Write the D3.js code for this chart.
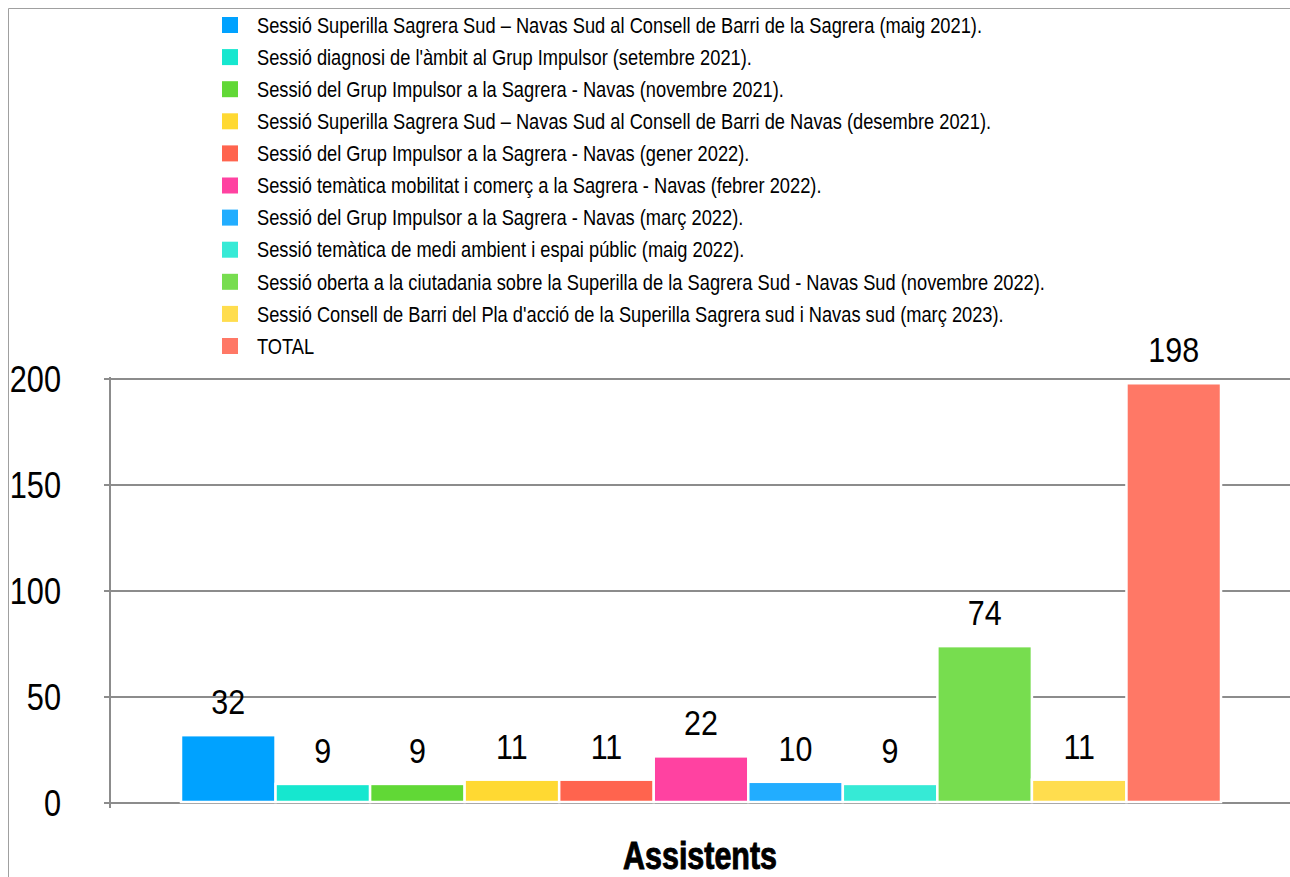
<!DOCTYPE html>
<html>
<head>
<meta charset="utf-8">
<script src="https://cdn.jsdelivr.net/npm/d3@7"></script>
<style>
    body { margin: 0; background: #fff; }
    svg { display: block; }
    .chartFont { font-family: "Liberation Sans", Arimo, Arial, sans-serif; }
</style>
</head>
<body>
<svg id="chart" width="1290" height="877"></svg>
<script>
var sessions = [
    "Sessió Superilla Sagrera Sud – Navas Sud al Consell de Barri de la Sagrera (maig 2021).",
    "Sessió diagnosi de l'àmbit al Grup Impulsor (setembre 2021).",
    "Sessió del Grup Impulsor a la Sagrera - Navas (novembre 2021).",
    "Sessió Superilla Sagrera Sud – Navas Sud al Consell de Barri de Navas (desembre 2021).",
    "Sessió del Grup Impulsor a la Sagrera - Navas (gener 2022).",
    "Sessió temàtica mobilitat i comerç a la Sagrera - Navas (febrer 2022).",
    "Sessió del Grup Impulsor a la Sagrera - Navas (març 2022).",
    "Sessió temàtica de medi ambient i espai públic (maig 2022).",
    "Sessió oberta a la ciutadania sobre la Superilla de la Sagrera Sud - Navas Sud (novembre 2022).",
    "Sessió Consell de Barri del Pla d'acció de la Superilla Sagrera sud i Navas sud (març 2023).",
    "TOTAL"
];

var assistents = [32, 9, 9, 11, 11, 22, 10, 9, 74, 11, 198];

var sessionColors = [
    "#00A2FF", "#16E7CF", "#61D836", "#FFD932", "#FF644E", "#FF42A1",
    "#22ADFF", "#36EAD6", "#77DD4F", "#FFDD4E", "#FF7866"
];

var yTicks = [0, 50, 100, 150, 200];

var axisTitle = "Assistents";

// the original uses a condensed face; squeeze a regular one horizontally
function place(x, y, sx)
{
    return "translate(" + x + "," + y + ") scale(" + sx + ",1)";
}

var svg = d3.select("#chart");

// frame (top and left edge only)
svg.append("path")
    .attr("d", "M8.5,877 V8.5 H1290")
    .attr("fill", "none")
    .attr("stroke", "#a0a0a0")
    .attr("stroke-width", 1);

var plotLeft = 110, plotRight = 1290;

var y = d3.scaleLinear()
    .domain([0, 200])
    .range([803, 379]);

var x = d3.scaleBand()
    .domain(d3.range(sessions.length))
    .range([181, 1221])
    .paddingInner(0);

// gridlines
svg.append("g")
    .selectAll("line")
    .data(yTicks)
    .enter().append("line")
    .attr("x1", plotLeft - 6)
    .attr("x2", plotRight)
    .attr("y1", function(d) { return y(d); })
    .attr("y2", function(d) { return y(d); })
    .attr("stroke", "#8c8c8c")
    .attr("stroke-width", 2);

// y axis line
svg.append("line")
    .attr("x1", plotLeft).attr("x2", plotLeft)
    .attr("y1", y(200) - 2).attr("y2", y(0) + 5)
    .attr("stroke", "#8c8c8c")
    .attr("stroke-width", 2);

// tick labels
svg.append("g")
    .selectAll("text")
    .data(yTicks)
    .enter().append("text")
    .attr("class", "chartFont")
    .attr("transform", function(d) { return place(61, y(d) + 13, 0.83); })
    .attr("text-anchor", "end")
    .style("font-size", "37px")
    .attr("fill", "#000")
    .text(function(d) { return d; });

// bars
svg.append("g")
    .selectAll("rect")
    .data(assistents)
    .enter().append("rect")
    .attr("x", function(d, i) { return x(i); })
    .attr("y", function(d) { return y(d); })
    .attr("width", x.bandwidth())
    .attr("height", function(d) { return y(0) - y(d) - 1; })
    .attr("fill", function(d, i) { return sessionColors[i]; })
    .attr("stroke", "#fff")
    .attr("stroke-width", 2.5);

// value labels
svg.append("g")
    .selectAll("text")
    .data(assistents)
    .enter().append("text")
    .attr("class", "chartFont")
    .attr("transform", function(d, i) {
        return place(x(i) + x.bandwidth() / 2, y(d) - 21, 0.87);
    })
    .attr("text-anchor", "middle")
    .style("font-size", "35px")
    .attr("fill", "#000")
    .text(function(d) { return d; });

// legend
var legend = svg.append("g")
    .selectAll("g")
    .data(sessions)
    .enter().append("g")
    .attr("transform", function(d, i) { return "translate(222," + (25 + i * 32.1) + ")"; });

legend.append("rect")
    .attr("x", 0)
    .attr("y", -8)
    .attr("width", 16)
    .attr("height", 16)
    .attr("fill", function(d, i) { return sessionColors[i]; });

var legendText = legend.append("text")
    .attr("class", "chartFont")
    .attr("dy", "0.35em")
    .style("font-size", "22px")
    .attr("fill", "#000")
    .text(function(d) { return d; });

// fit the first line to its width in the original (725px)
var sx = 725 / legendText.node().getComputedTextLength();
legendText.attr("transform", place(35, 0, sx));

// axis title (heavy weight: bold plus a thin stroke)
svg.append("text")
    .attr("class", "chartFont")
    .attr("transform", place(700, 869, 0.78))
    .attr("text-anchor", "middle")
    .style("font-size", "39px")
    .style("font-weight", "bold")
    .attr("fill", "#000")
    .attr("stroke", "#000")
    .attr("stroke-width", 1)
    .text(axisTitle);
</script>
</body>
</html>
